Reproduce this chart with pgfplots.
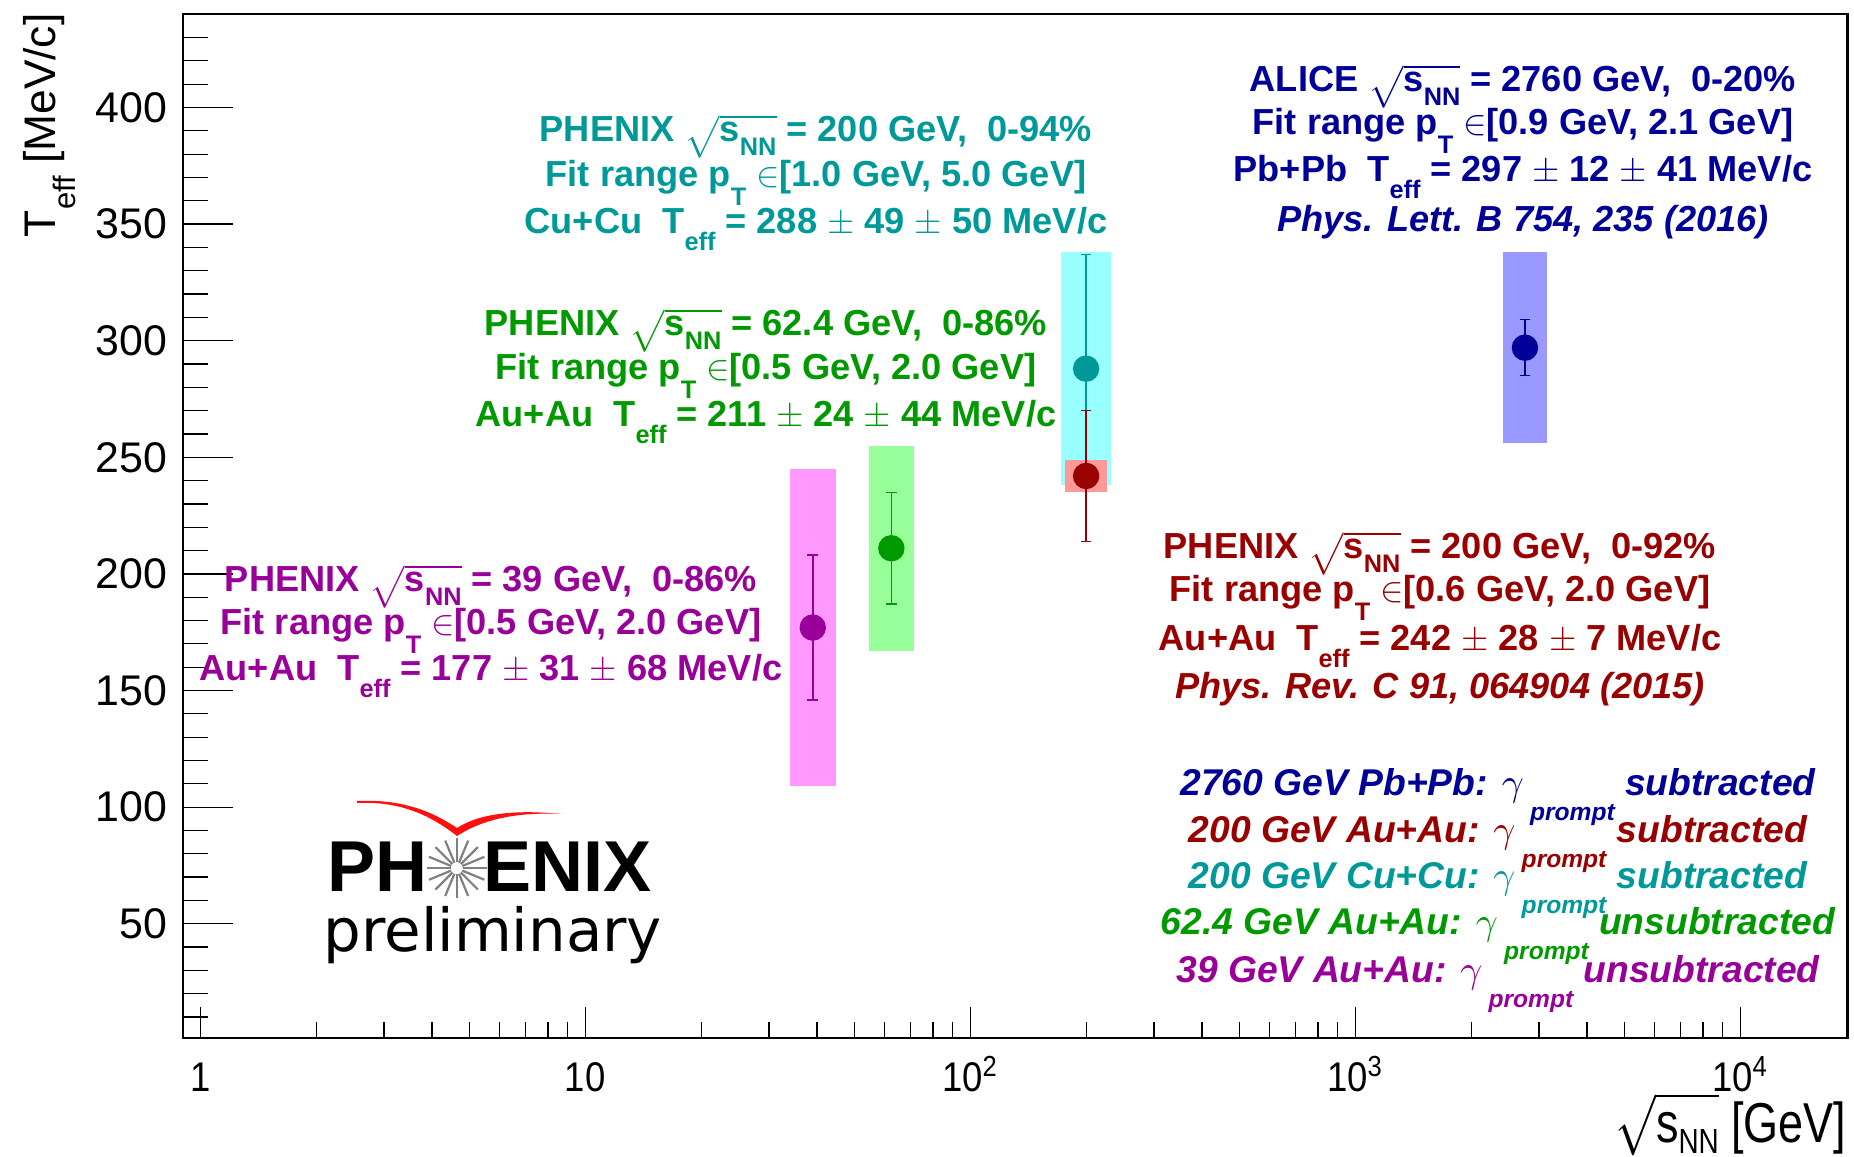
\documentclass[border=0pt]{standalone}
\usepackage{pgfplots}
\pgfplotsset{compat=1.18}
\usepackage{fontspec}
\usepackage{amsmath}
\usepackage{graphicx}
\setmainfont{Liberation Sans}
\newfontfamily\dejavu{DejaVu Sans}

\definecolor{cBlue}{HTML}{000099}
\definecolor{bBlue}{HTML}{9999FF}
\definecolor{cRed}{HTML}{990000}
\definecolor{bRed}{HTML}{FF9999}
\definecolor{cTeal}{HTML}{009999}
\definecolor{bCyan}{HTML}{99FFFF}
\definecolor{cGreen}{HTML}{009900}
\definecolor{bGreen}{HTML}{99FF99}
\definecolor{cPurple}{HTML}{990099}
\definecolor{bPink}{HTML}{FF99FF}
\definecolor{logored}{HTML}{FF1010}

\newcommand\lo[2][0.4em]{\raisebox{-#1}{\scalebox{0.7}{#2}}}
\newcommand\sNN{\ensuremath{\sqrt{\text{s\lo[0.38em]{NN}}}}}
\newcommand\sNNax{\ensuremath{\sqrt{\smash[b]{\text{s\raisebox{-0.18em}{\scalebox{0.62}{NN}}}}}}}
\newcommand\pT{p\lo[0.5em]{T}}
\newcommand\Teff{T\lo[0.45em]{eff}}
\newcommand\pr{\raisebox{-0.65em}{\scalebox{0.66}{prompt}}}
\newcommand\blk{\fontsize{10.3}{12}\selectfont\bfseries}
\newcommand\leg{\fontsize{10.6}{12}\selectfont\bfseries\itshape}
\newcommand\xl[1]{\scalebox{0.88}[1]{#1}}

\pgfplotsset{
  pt/.style={only marks, mark=*, mark size=1.25mm, color=#1,
    error bars/.cd, y dir=both, y explicit,
    error bar style={line width=0.15mm},
    error mark options={rotate=90, mark size=0.53mm, line width=0.15mm}},
}

\begin{document}
\begin{tikzpicture}
\begin{axis}[
  at={(0,0)}, anchor=south west,
  scale only axis, width=166.49mm, height=102.38mm,
  xmode=log, xmin=0.9, xmax=19000, ymin=1, ymax=440,
  axis line style={line width=0.22mm},
  tick align=inside, tick pos=left,
  xtick={1,10,100,1000,10000},
  xticklabels={\xl{1},\xl{10},\xl{10\textsuperscript{2}},\xl{10\textsuperscript{3}},\xl{10\textsuperscript{4}}},
  minor xtick={2,3,4,5,6,7,8,9,20,30,40,50,60,70,80,90,200,300,400,500,600,700,800,900,2000,3000,4000,5000,6000,7000,8000,9000},
  ytick={50,100,...,400},
  minor ytick={10,20,...,430},
  xtick style={black, line width=0.12mm, /pgfplots/major tick length=3.1mm, /pgfplots/minor tick length=1.55mm},
  ytick style={black, line width=0.12mm, /pgfplots/major tick length=5mm, /pgfplots/minor tick length=2.5mm},
  yticklabel style={font=\fontsize{12.2}{14}\selectfont, anchor=east, inner sep=0pt, xshift=-1.46mm},
  /pgf/number format/assume math mode=true,
  xticklabel style={font=\fontsize{11.8}{13}\selectfont, anchor=base, yshift=-5.4mm, inner sep=0pt},
]
% 39 GeV Au+Au
\addplot[fill=bPink, draw=none] coordinates {(34.0,109) (44.73,109) (44.73,245) (34.0,245)};
\addplot[pt=cPurple] coordinates {(39,177) +- (0,31)};
% 62.4 GeV Au+Au
\addplot[fill=bGreen, draw=none] coordinates {(54.64,167) (71.26,167) (71.26,255) (54.64,255)};
\addplot[pt=cGreen] coordinates {(62.4,211) +- (0,24)};
% 200 GeV Cu+Cu
\addplot[fill=bCyan, draw=none] coordinates {(171.97,238) (232.6,238) (232.6,338) (171.97,338)};
\addplot[pt=cTeal] coordinates {(200,288) +- (0,49)};
% 200 GeV Au+Au
\addplot[fill=bRed, draw=none] coordinates {(176.37,235) (226.8,235) (226.8,249) (176.37,249)};
\addplot[pt=cRed] coordinates {(200,242) +- (0,28)};
% 2760 GeV Pb+Pb
\addplot[fill=bBlue, draw=none] coordinates {(2421,256) (3146,256) (3146,338) (2421,338)};
\addplot[pt=cBlue] coordinates {(2760,297) +- (0,12)};
\end{axis}

\begin{scope}[x=0.1mm, y=-0.1mm, shift={(-182.6,-1038)}]
% axis titles
\node[rotate=90, anchor=base east, inner sep=0pt, font=\fontsize{12.6}{14}\selectfont] at (56,13) {\Teff\ [MeV/c]};
\node[anchor=base east, inner sep=0pt, font=\fontsize{16}{18}\selectfont] at (1847,1143) {\scalebox{0.8}[1]{\sNNax\ [GeV]}};

% cyan block
\begin{scope}[every node/.style={anchor=base, inner sep=0pt, font=\blk, text=cTeal}]
\node at (816,142) {PHENIX \sNN\ = 200 GeV,\ \ 0-94\%};
\node at (816,187) {Fit range \pT\ $\in$[1.0 GeV, 5.0 GeV]};
\node at (816,234) {Cu+Cu\ \ \Teff\ = 288 $\pm$ 49 $\pm$ 50 MeV/c};
\end{scope}
% green block
\begin{scope}[every node/.style={anchor=base, inner sep=0pt, font=\blk, text=cGreen}]
\node at (766,336) {PHENIX \sNN\ = 62.4 GeV,\ \ 0-86\%};
\node at (766,380) {Fit range \pT\ $\in$[0.5 GeV, 2.0 GeV]};
\node at (766,427) {Au+Au\ \ \Teff\ = 211 $\pm$ 24 $\pm$ 44 MeV/c};
\end{scope}
% purple block
\begin{scope}[every node/.style={anchor=base, inner sep=0pt, font=\blk, text=cPurple}]
\node at (491,592) {PHENIX \sNN\ = 39 GeV,\ \ 0-86\%};
\node at (491,635) {Fit range \pT\ $\in$[0.5 GeV, 2.0 GeV]};
\node at (491,681) {Au+Au\ \ \Teff\ = 177 $\pm$ 31 $\pm$ 68 MeV/c};
\end{scope}
% blue block
\begin{scope}[every node/.style={anchor=base, inner sep=0pt, font=\blk, text=cBlue}]
\node at (1523,92) {ALICE \sNN\ = 2760 GeV,\ \ 0-20\%};
\node at (1523,135) {Fit range \pT\ $\in$[0.9 GeV, 2.1 GeV]};
\node at (1523,182) {Pb+Pb\ \ \Teff\ = 297 $\pm$ 12 $\pm$ 41 MeV/c};
\node at (1523,232) {\itshape Phys. Lett. B 754, 235 (2016)};
\end{scope}
% red block
\begin{scope}[every node/.style={anchor=base, inner sep=0pt, font=\blk, text=cRed}]
\node at (1440,559) {PHENIX \sNN\ = 200 GeV,\ \ 0-92\%};
\node at (1440,602) {Fit range \pT\ $\in$[0.6 GeV, 2.0 GeV]};
\node at (1440,651) {Au+Au\ \ \Teff\ = 242 $\pm$ 28 $\pm$ 7 MeV/c};
\node at (1440,699) {\itshape Phys. Rev. C 91, 064904 (2015)};
\end{scope}
% legend
\begin{scope}[every node/.style={anchor=base, inner sep=0pt, font=\leg}]
\node[text=cBlue] at (1498,796) {2760 GeV Pb+Pb: $\gamma$\,\pr\ subtracted};
\node[text=cRed] at (1498,843) {200 GeV Au+Au: $\gamma$\,\pr\ subtracted};
\node[text=cTeal] at (1498,889) {200 GeV Cu+Cu: $\gamma$\,\pr\ subtracted};
\node[text=cGreen] at (1498,935) {62.4 GeV Au+Au: $\gamma$\,\pr\ unsubtracted};
\node[text=cPurple] at (1498,983) {39 GeV Au+Au: $\gamma$\,\pr\ unsubtracted};
\end{scope}

% PHENIX logo
\fill[logored] (357,803) .. controls (400,801) and (430,815) .. (457,836)
  .. controls (485,818) and (520,812) .. (562,814)
  .. controls (520,810) and (482,812) .. (457,828)
  .. controls (430,810) and (400,799) .. (357,801) -- cycle;
\node[anchor=base west, inner sep=0pt, font=\fontsize{20.5}{22}\selectfont\bfseries] at (326.7,891.7) {PH\phantom{O}ENIX};
\foreach \a in {0,22.5,...,337.5}
  \draw[gray, line width=0.22mm] (456.7,868.3) ++(\a:0.6mm) -- ++(\a:2.4mm);
\node[anchor=base west, inner sep=0pt, font=\dejavu\fontsize{16.9}{18}\selectfont] at (323,952) {preliminary};

\pgfresetboundingbox
\path[use as bounding box] (0,0) rectangle (1854,1157);
\end{scope}
\end{tikzpicture}
\end{document}
